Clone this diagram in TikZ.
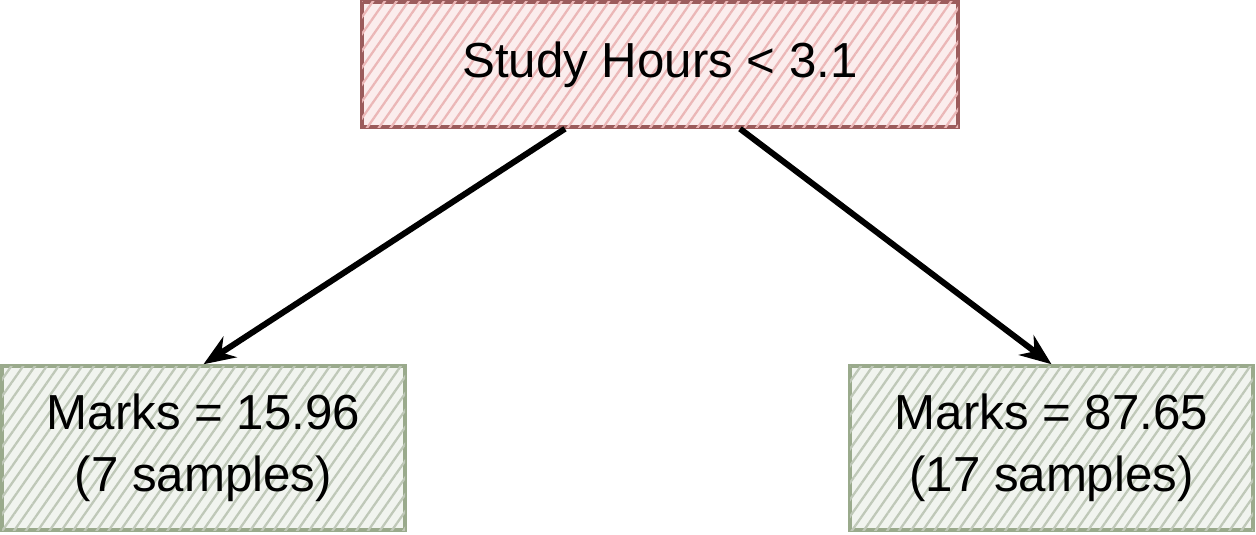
\documentclass[tikz,border=0pt]{standalone}
\usepackage{fontspec}
\setmainfont{Liberation Sans}
\usepackage{xcolor}
\usepackage{tikz}
\usetikzlibrary{arrows.meta,positioning,patterns.meta}
\definecolor{splitEdge}{HTML}{9C5C5C}
\definecolor{splitFill}{HTML}{FBEDED}
\definecolor{splitHatch}{HTML}{EBB7B7}
\definecolor{leafEdge}{HTML}{9AAA8C}
\definecolor{leafFill}{HTML}{F1F4EF}
\definecolor{leafHatch}{HTML}{BFC8B8}

\begin{document}
\begin{tikzpicture}[font=\fontsize{28}{35}\selectfont,>={Stealth[length=18pt,width=14pt]},
  split/.style={draw=splitEdge,line width=2pt,fill=splitFill,
    postaction={pattern={Lines[angle=55,distance=5.5pt,line width=1.3pt]},pattern color=splitHatch},
    minimum width=11.92cm,minimum height=2.5cm,align=center},
  leaf/.style={draw=leafEdge,line width=2pt,fill=leafFill,
    postaction={pattern={Lines[angle=55,distance=5.5pt,line width=1.3pt]},pattern color=leafHatch},
    minimum width=8.06cm,minimum height=3.28cm,align=center},
  link/.style={->,line width=3.4pt,black}]
\useasboundingbox (0,0) rectangle (25.12,-10.68);
% split
\node[split] (root) at (13.2,-1.29) {Study Hours < 3.1};
% leaves
\node[leaf] (leftleaf) at (4.07,-8.96) {Marks = 15.96\\(7 samples)};
\node[leaf] (rightleaf) at (21.03,-8.96) {Marks = 87.65\\(17 samples)};
\draw[link] ([xshift=-1.9cm]root.south) -- (leftleaf.north);
\draw[link] ([xshift=1.6cm]root.south) -- (rightleaf.north);
\end{tikzpicture}
\end{document}
